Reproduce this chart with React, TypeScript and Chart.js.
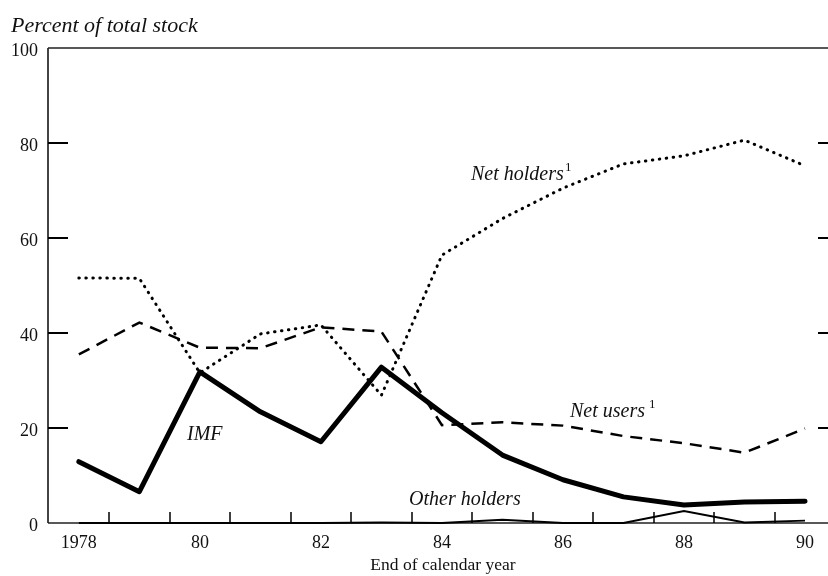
import React, { useEffect, useRef } from "react";
import { Chart, registerables } from "chart.js";

Chart.register(...registerables);

const years = [1978, 1979, 1980, 1981, 1982, 1983, 1984, 1985, 1986, 1987, 1988, 1989, 1990];
const imf = [12.9, 6.6, 31.8, 23.4, 17.1, 32.8, 23.2, 14.3, 9.1, 5.5, 3.8, 4.4, 4.6];
const netHolders = [51.6, 51.5, 31.6, 39.8, 41.7, 26.9, 56.4, 64.1, 70.5, 75.6, 77.3, 80.6, 75.2];
const netUsers = [35.5, 42.2, 36.9, 36.8, 41.2, 40.3, 20.6, 21.2, 20.5, 18.3, 16.8, 14.8, 19.9];
const otherHolders = [0, 0, 0, 0, 0, 0.1, 0, 0.7, 0, 0, 2.5, 0.1, 0.5];

const yTicks = [0, 20, 40, 60, 80, 100];
const xLabelYears = [1978, 1980, 1982, 1984, 1986, 1988, 1990];
const xLabels = ["1978", "80", "82", "84", "86", "88", "90"];
const xMinorTicks = [1978.5, 1979.5, 1980.5, 1981.5, 1982.5, 1983.5, 1984.5, 1985.5, 1986.5, 1987.5, 1988.5, 1989.5];

const SERIF = '"Liberation Serif", "DejaVu Serif", serif';

const toPts = (vals: number[]) => vals.map((v, i) => ({ x: years[i], y: v }));

const axesPlugin = {
  id: "customAxes",
  beforeDatasetsDraw(chart: any) {
    const ctx = chart.ctx;
    const { left, right, top, bottom } = chart.chartArea;
    const xs = chart.scales.x;
    const ys = chart.scales.y;
    ctx.save();
    ctx.strokeStyle = "#444";
    ctx.lineWidth = 2;
    ctx.beginPath();
    ctx.moveTo(left, top);
    ctx.lineTo(left, bottom);
    ctx.stroke();
    ctx.strokeStyle = "#222";
    ctx.lineWidth = 1.5;
    ctx.beginPath();
    ctx.moveTo(left, top);
    ctx.lineTo(right, top);
    ctx.moveTo(left, bottom);
    ctx.lineTo(right, bottom);
    ctx.stroke();
    ctx.strokeStyle = "#000";
    ctx.lineWidth = 2;
    ctx.beginPath();
    for (const v of yTicks) {
      if (v === 0 || v === 100) continue;
      const y = Math.round(ys.getPixelForValue(v));
      ctx.moveTo(left, y);
      ctx.lineTo(left + 20, y);
      ctx.moveTo(right - 10, y);
      ctx.lineTo(right, y);
    }
    ctx.stroke();
    ctx.lineWidth = 1.5;
    ctx.beginPath();
    for (const v of xMinorTicks) {
      const x = Math.round(xs.getPixelForValue(v));
      ctx.moveTo(x, bottom);
      ctx.lineTo(x, bottom - 11);
    }
    ctx.stroke();
    ctx.restore();
  },
  afterDraw(chart: any) {
    const ctx = chart.ctx;
    const xs = chart.scales.x;
    const ys = chart.scales.y;
    ctx.save();
    ctx.fillStyle = "#111";
    ctx.font = `18px ${SERIF}`;
    ctx.textAlign = "right";
    ctx.textBaseline = "alphabetic";
    for (const v of yTicks) {
      const y = ys.getPixelForValue(v);
      ctx.fillText(String(v), 38, y + 8);
    }
    ctx.textAlign = "center";
    xLabelYears.forEach((yr, i) => {
      ctx.fillText(xLabels[i], xs.getPixelForValue(yr), 548);
    });
    ctx.font = `17.5px ${SERIF}`;
    ctx.fillText("End of calendar year", 443, 570);

    ctx.textAlign = "left";
    ctx.font = `italic 22px ${SERIF}`;
    ctx.fillText("Percent of total stock", 11, 32);

    ctx.font = `italic 20px ${SERIF}`;
    ctx.fillText("Net holders", 471, 180);
    ctx.fillText("Net users", 570, 417);
    ctx.fillText("IMF", 187, 440);
    ctx.fillText("Other holders", 409, 505);
    ctx.font = `13px ${SERIF}`;
    ctx.fillText("1", 565, 171);
    ctx.fillText("1", 649, 408);
    ctx.restore();
  },
};

export default function App() {
  const ref = useRef<HTMLCanvasElement>(null);
  useEffect(() => {
    if (!ref.current) return;
    const chart = new Chart(ref.current, {
      type: "line",
      data: {
        datasets: [
          {
            label: "IMF",
            data: toPts(imf),
            borderColor: "#000",
            borderWidth: 5,
            pointRadius: 0,
            borderJoinStyle: "round",
            borderCapStyle: "round",
            tension: 0,
            clip: false,
          },
          {
            label: "Net holders",
            data: toPts(netHolders),
            borderColor: "#000",
            borderWidth: 3,
            borderDash: [0.5, 6.5],
            borderCapStyle: "round",
            pointRadius: 0,
            tension: 0,
            clip: false,
          },
          {
            label: "Net users",
            data: toPts(netUsers),
            borderColor: "#000",
            borderWidth: 2.5,
            borderDash: [12, 8],
            pointRadius: 0,
            tension: 0,
            clip: false,
          },
          {
            label: "Other holders",
            data: toPts(otherHolders),
            borderColor: "#000",
            borderWidth: 2,
            pointRadius: 0,
            tension: 0,
            clip: false,
          },
        ] as any,
      },
      options: {
        animation: false,
        responsive: false,
        maintainAspectRatio: false,
        layout: { padding: { left: 48, top: 48, right: 0, bottom: 53 } },
        plugins: { legend: { display: false }, tooltip: { enabled: false } },
        scales: {
          x: { type: "linear", min: 1977.49, max: 1990.38, display: false },
          y: { type: "linear", min: 0, max: 100, display: false },
        },
      },
      plugins: [axesPlugin],
    });
    return () => chart.destroy();
  }, []);
  return (
    <canvas
      ref={ref}
      width={828}
      height={576}
      style={{ position: "fixed", left: 0, top: 0, width: 828, height: 576, background: "#fff" }}
    />
  );
}
